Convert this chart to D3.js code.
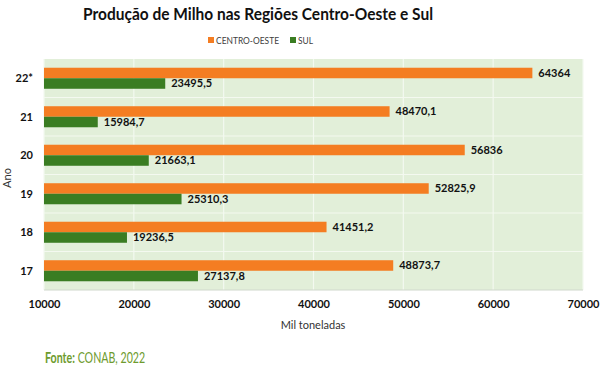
<!DOCTYPE html>
<html>
<head>
<meta charset="utf-8">
<script src="https://cdn.jsdelivr.net/npm/d3@7"></script>
<style>
  html, body { margin: 0; padding: 0; background: #fff; }
  svg { display: block; font-family: Lato, "Open Sans", sans-serif; }
</style>
</head>
<body>
<svg id="chart" width="600" height="367"></svg>
<script>
const categories = ["22*", "21", "20", "19", "18", "17"];
const seriesNames = ["CENTRO-OESTE", "SUL"];
const centroOeste = [64364, 48470.1, 56836, 52825.9, 41451.2, 48873.7];
const sul = [23495.5, 15984.7, 21663.1, 25310.3, 19236.5, 27137.8];
const valueLabelsCO = ["64364", "48470,1", "56836", "52825,9", "41451,2", "48873,7"];
const valueLabelsSul = ["23495,5", "15984,7", "21663,1", "25310,3", "19236,5", "27137,8"];
const xTicks = [10000, 20000, 30000, 40000, 50000, 60000, 70000];
const colors = ["#f47d22", "#3a7d22"];

const svg = d3.select("#chart");
const plot = { left: 44, right: 583, top: 59, bottom: 290 };

const x = d3.scaleLinear().domain([10000, 70000]).range([plot.left, plot.right]);
const y0 = d3.scaleBand().domain(categories).range([plot.top, plot.bottom]).padding(0);
const y1 = d3.scaleBand().domain(seriesNames).range([0, y0.step()]).paddingInner(0).paddingOuter(0.83);

// background
svg.append("rect").attr("x", plot.left).attr("y", plot.top)
  .attr("width", plot.right - plot.left).attr("height", plot.bottom - plot.top)
  .attr("fill", "#e2efd9");

// vertical gridlines
svg.append("g").selectAll("line").data(xTicks).join("line")
  .attr("x1", d => x(d)).attr("x2", d => x(d))
  .attr("y1", plot.top).attr("y2", plot.bottom)
  .attr("stroke", "#f4f9f0").attr("stroke-width", 1.2);

// horizontal band lines
svg.append("g").selectAll("line").data(categories.slice(1)).join("line")
  .attr("x1", plot.left).attr("x2", plot.right)
  .attr("y1", d => y0(d)).attr("y2", d => y0(d))
  .attr("stroke", "#f4f9f0").attr("stroke-width", 1.2);

svg.append("line").attr("x1", plot.left).attr("x2", plot.right)
  .attr("y1", plot.bottom).attr("y2", plot.bottom).attr("stroke", "#d0d8cc");

const rows = categories.map((c, i) => ({
  cat: c,
  vals: [
    { s: seriesNames[0], v: centroOeste[i], lab: valueLabelsCO[i], c: colors[0] },
    { s: seriesNames[1], v: sul[i], lab: valueLabelsSul[i], c: colors[1] }
  ]
}));

const g = svg.append("g").selectAll("g").data(rows).join("g")
  .attr("transform", d => `translate(0,${y0(d.cat)})`);

g.selectAll("rect").data(d => d.vals).join("rect")
  .attr("x", plot.left)
  .attr("y", d => y1(d.s))
  .attr("width", d => x(d.v) - plot.left)
  .attr("height", y1.bandwidth())
  .attr("fill", d => d.c);

g.selectAll("text").data(d => d.vals).join("text")
  .attr("x", d => x(d.v) + 6)
  .attr("y", d => y1(d.s) + y1.bandwidth() / 2)
  .attr("dy", "0.35em")
  .attr("font-size", 11).attr("font-weight", "bold").attr("fill", "#111")
  .text(d => d.lab);

// y axis labels
svg.append("g").selectAll("text").data(categories).join("text")
  .attr("x", 33).attr("y", d => y0(d) + y0.bandwidth() / 2)
  .attr("dy", "0.35em").attr("text-anchor", "end")
  .attr("font-size", 11).attr("font-weight", "bold").attr("fill", "#111")
  .text(d => d);

// x axis
const xAxis = d3.axisBottom(x).tickValues(xTicks).tickSize(0).tickPadding(10).tickFormat(d3.format("d"));
const ax = svg.append("g").attr("transform", `translate(0,${plot.bottom})`).call(xAxis);
ax.select(".domain").remove();
ax.selectAll("text").attr("font-size", 11).attr("font-weight", "bold").attr("fill", "#111")
  .attr("font-family", "Lato, sans-serif");

// axis titles
svg.append("text").attr("x", 313).attr("y", 329).attr("text-anchor", "middle")
  .attr("font-size", 11).attr("fill", "#333").text("Mil toneladas");
svg.append("text").attr("transform", "translate(11,178) rotate(-90)").attr("text-anchor", "middle")
  .attr("font-size", 11).attr("fill", "#333").text("Ano");

// title
svg.append("text").attr("x", 83).attr("y", 20)
  .attr("font-size", 17).attr("font-weight", "bold").attr("fill", "#111")
  .attr("textLength", 350).attr("lengthAdjust", "spacingAndGlyphs")
  .text("Produção de Milho nas Regiões Centro-Oeste e Sul");

// legend
const legend = svg.append("g");
const legItems = [
  { n: seriesNames[0], c: colors[0], x: 208, w: 63 },
  { n: seriesNames[1], c: colors[1], x: 290, w: 15 }
];
legend.selectAll("rect").data(legItems).join("rect")
  .attr("x", d => d.x).attr("y", 37).attr("width", 6).attr("height", 6).attr("fill", d => d.c);
legend.selectAll("text").data(legItems).join("text")
  .attr("x", d => d.x + 8).attr("y", 40).attr("dy", "0.35em")
  .attr("font-size", 10).attr("fill", "#404040")
  .attr("textLength", d => d.w).attr("lengthAdjust", "spacingAndGlyphs")
  .text(d => d.n);

// source (condensed via horizontal scale)
const src = svg.append("g").attr("transform", "translate(45,363) scale(0.71,1)")
  .append("text").attr("x", 0).attr("y", 0)
  .attr("font-size", 15).attr("fill", "#6e9b2e");
src.append("tspan").attr("font-weight", "bold").text("Fonte:");
src.append("tspan").text(" CONAB, 2022");
</script>
</body>
</html>
